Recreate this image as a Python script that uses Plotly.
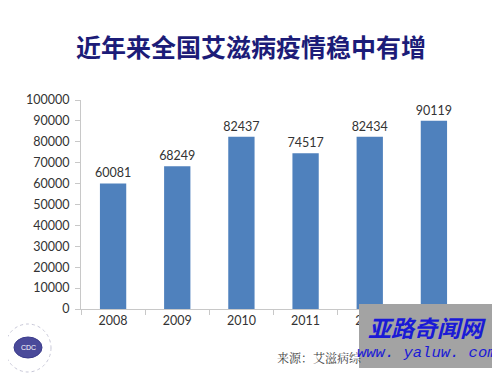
import plotly.graph_objects as go

years = ["2008", "2009", "2010", "2011", "2012", "2013"]
cases = [60081, 68249, 82437, 74517, 82434, 90119]
y_ticks = [0, 10000, 20000, 30000, 40000, 50000, 60000, 70000, 80000, 90000, 100000]
# the 2013 label is hidden under the watermark in the reference
x_labels = ["2008", "2009", "2010", "2011", "2012", ""]

# page geometry (the page body has an 8px margin)
OFF = 8
W, H = 500, 375
PL, PR, PT, PB = 81, 466, 100, 309   # plot area in page pixels
pw, ph = PR - PL, PB - PT

def px(x):
    return (x - PL) / pw

def py(y):
    return (PB - y) / ph

FW, FH = W - OFF, H - OFF
FONT = "Lato, Liberation Sans, sans-serif"

fig = go.Figure(go.Bar(
    x=years, y=cases, width=0.41,
    marker=dict(color="#4f81bd", line=dict(width=0)),
    text=[str(v) for v in cases], textposition="outside", constraintext="none",
    textfont=dict(family=FONT, size=12.5, color="#333333"),
    cliponaxis=False,
))

fig.update_layout(
    width=FW, height=FH,
    margin=dict(l=PL - OFF, r=FW - (PR - OFF), t=PT - OFF, b=FH - (PB - OFF), autoexpand=False),
    paper_bgcolor="white", plot_bgcolor="white",
    showlegend=False,
    title=dict(text="近年来全国艾滋病疫情稳中有增", x=(251 - OFF) / FW, xanchor="center",
               y=1 - (48 - OFF) / FH, yanchor="middle",
               font=dict(family="Noto Sans CJK SC", size=25, color="#1c1c78", weight="bold")),
    xaxis=dict(showline=True, linecolor="#c8c8c8", linewidth=1, automargin=False,
               tickvals=years, ticktext=x_labels,
               ticks="outside", tickson="boundaries", ticklen=5, tickcolor="#c8c8c8",
               tickfont=dict(family=FONT, size=12.5, color="#333333"),
               showgrid=False, fixedrange=True),
    yaxis=dict(range=[0, 100000], tickvals=y_ticks, ticktext=[str(v) for v in y_ticks],
               showline=True, linecolor="#c8c8c8", linewidth=1, automargin=False,
               ticks="outside", ticklen=5, tickcolor="#c8c8c8", ticklabelstandoff=3,
               tickfont=dict(family=FONT, size=12.5, color="#333333"),
               showgrid=False, zeroline=False, fixedrange=True),
)

# source note (visible part, the rest is hidden by the watermark)
fig.add_annotation(text="来源：艾滋病综", xref="paper", yref="paper",
                   x=px(275), y=py(357), xanchor="left", yanchor="middle", showarrow=False,
                   font=dict(family="Noto Serif CJK SC, Noto Sans CJK SC", size=12, color="#444444"))

# watermark box
fig.add_shape(type="rect", xref="paper", yref="paper",
              x0=px(359), x1=px(495), y0=py(304), y1=py(368),
              fillcolor="#a3a3a3", line=dict(width=0), layer="above")
fig.add_annotation(text="<b><i>亚路奇闻网</i></b>", xref="paper", yref="paper",
                   x=px(427), y=py(327), xanchor="center", yanchor="middle", showarrow=False,
                   font=dict(family="Noto Sans CJK SC", size=23, color="#1a1ad6"))
fig.add_annotation(text="<i>www. yaluw. com</i>", xref="paper", yref="paper",
                   x=px(427), y=py(353), xanchor="center", yanchor="middle", showarrow=False,
                   font=dict(family="Liberation Mono, DejaVu Sans Mono", size=15.5, color="#1a1ad6"))

# logo approximation
fig.add_shape(type="circle", xref="paper", yref="paper",
              x0=px(5), x1=px(51), y0=py(324), y1=py(372),
              line=dict(color="#c8c8d8", width=1, dash="dot"), fillcolor="white")
fig.add_shape(type="circle", xref="paper", yref="paper",
              x0=px(14), x1=px(42), y0=py(337), y1=py(358),
              line=dict(color="#3c3c8c", width=1), fillcolor="#4a4a9a")
fig.add_annotation(text="CDC", xref="paper", yref="paper",
                   x=px(28), y=py(347.5), xanchor="center", yanchor="middle", showarrow=False,
                   font=dict(family="Liberation Sans", size=7, color="white"))

fig.write_html("out.html")
